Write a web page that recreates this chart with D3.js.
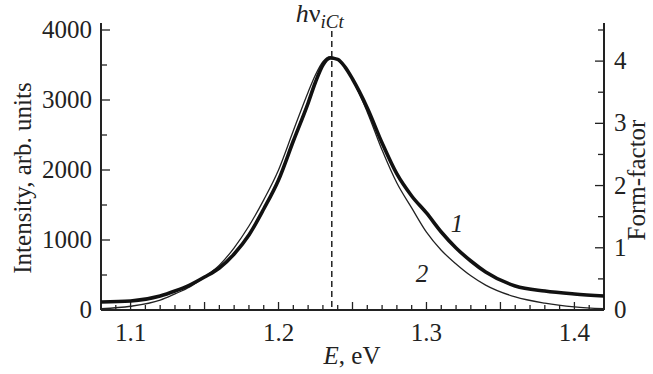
<!DOCTYPE html>
<html><head><meta charset="utf-8">
<script src="https://cdn.jsdelivr.net/npm/d3@7"></script>
<style>
body{margin:0;background:#fff;}
svg text{font-family:"Liberation Serif","Times New Roman",serif;fill:#222;}
</style></head><body>
<svg id="c" width="653" height="374"></svg>
<script>
const energy = [1.08,1.10,1.12,1.13,1.14,1.15,1.16,1.17,1.18,1.19,1.20,1.21,1.22,1.225,1.23,1.235,1.24,1.245,1.25,1.26,1.27,1.28,1.29,1.30,1.31,1.32,1.33,1.34,1.36,1.38,1.40,1.42];
const intensity = [114,129,200,271,357,471,600,800,1071,1443,1857,2414,2957,3257,3500,3600,3580,3470,3300,2886,2386,1943,1629,1386,1114,886,700,543,343,271,229,200];
const formFactor = [0.02,0.06,0.16,0.26,0.37,0.53,0.72,1.00,1.35,1.77,2.25,2.88,3.50,3.78,3.99,4.07,4.02,3.89,3.70,3.18,2.57,2.04,1.64,1.25,0.96,0.74,0.55,0.40,0.21,0.11,0.05,0.02];
const xTicks = [1.1,1.2,1.3,1.4];
const leftTicks = [0,1000,2000,3000,4000];
const rightTicks = [0,1,2,3,4];
const peakE = 1.236;

const svg = d3.select("#c");
const L=101,R=604,T=23,B=310;
const FS=25;
const x = d3.scaleLinear().domain([1.08,1.42]).range([L,R]);
const yL = d3.scaleLinear().domain([0,4100]).range([B,T]);
const yR = d3.scaleLinear().domain([0,4.6125]).range([B,T]);
const col="#222";

svg.append("line").attr("x1",L).attr("x2",L).attr("y1",T).attr("y2",B).attr("stroke",col).attr("stroke-width",2);
svg.append("line").attr("x1",R).attr("x2",R).attr("y1",T).attr("y2",B).attr("stroke",col).attr("stroke-width",2);
svg.append("line").attr("x1",L).attr("x2",R).attr("y1",B).attr("y2",B).attr("stroke",col).attr("stroke-width",2);

const xMinor = d3.range(1.09,1.4151,0.01);
xMinor.forEach(v=>{
  const major = Math.abs(Math.round(v*20)-v*20)<1e-6;
  svg.append("line").attr("x1",x(v)).attr("x2",x(v)).attr("y1",B).attr("y2",B-(major?8:5)).attr("stroke",col).attr("stroke-width",1.3);
});
xTicks.forEach(v=>svg.append("text").attr("x",x(v)).attr("y",B+31).attr("text-anchor","middle").attr("font-size",FS).text(v.toFixed(1)));

d3.range(500,4001,500).forEach(v=>{
  const major = v%1000===0;
  svg.append("line").attr("x1",L).attr("x2",L+(major?9:6)).attr("y1",yL(v)).attr("y2",yL(v)).attr("stroke",col).attr("stroke-width",1.3);
});
leftTicks.forEach(v=>svg.append("text").attr("x",L-9).attr("y",yL(v)+8).attr("text-anchor","end").attr("font-size",FS).text(v));

d3.range(0.5,4.51,0.5).forEach(v=>{
  const major = Math.abs(v-Math.round(v))<1e-6;
  svg.append("line").attr("x1",R).attr("x2",R-(major?9:6)).attr("y1",yR(v)).attr("y2",yR(v)).attr("stroke",col).attr("stroke-width",1.3);
});
rightTicks.forEach(v=>svg.append("text").attr("x",R+10).attr("y",yR(v)+8).attr("text-anchor","start").attr("font-size",FS).text(v));

svg.append("text").attr("transform","translate(31,178) rotate(-90)").attr("text-anchor","middle").attr("font-size",FS).text("Intensity, arb. units");
svg.append("text").attr("transform","translate(645,180) rotate(-90)").attr("text-anchor","middle").attr("font-size",FS).text("Form-factor");
const xl = svg.append("text").attr("x",352).attr("y",364).attr("text-anchor","middle").attr("font-size",FS);
xl.append("tspan").attr("font-style","italic").text("E");
xl.append("tspan").text(", eV");

svg.append("line").attr("x1",x(peakE)).attr("x2",x(peakE)).attr("y1",31).attr("y2",B).attr("stroke",col).attr("stroke-width",1.5).attr("stroke-dasharray","6,4");
const ht = svg.append("text").attr("x",x(peakE)-36).attr("y",22).attr("font-size",26);
ht.append("tspan").attr("font-style","italic").text("h");
ht.append("tspan").text("ν");
ht.append("tspan").attr("font-style","italic").attr("font-size",19).attr("dy",6).text("iCt");

const lineL = d3.line().x((d,i)=>x(energy[i])).y(d=>yL(d)).curve(d3.curveMonotoneX);
const lineR = d3.line().x((d,i)=>x(energy[i])).y(d=>yR(d)).curve(d3.curveMonotoneX);
svg.append("path").attr("d",lineR(formFactor)).attr("fill","none").attr("stroke",col).attr("stroke-width",1.3);
svg.append("path").attr("d",lineL(intensity)).attr("fill","none").attr("stroke","#111").attr("stroke-width",3.6).attr("stroke-linejoin","round");

svg.append("text").attr("x",457).attr("y",232).attr("text-anchor","middle").attr("font-style","italic").attr("font-size",FS).text("1");
svg.append("text").attr("x",422).attr("y",282).attr("text-anchor","middle").attr("font-style","italic").attr("font-size",FS).text("2");
</script></body></html>
